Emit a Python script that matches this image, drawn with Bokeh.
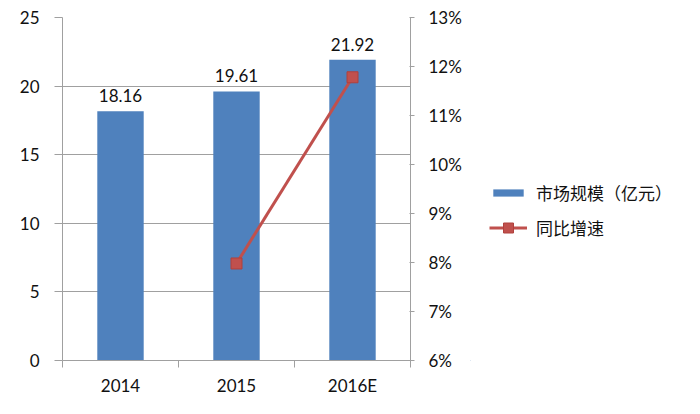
from bokeh.plotting import figure
from bokeh.layouts import row
from bokeh.models import (Range1d, LinearAxis, FixedTicker, NumeralTickFormatter,
                          ColumnDataSource, Legend, LegendItem)
from bokeh.core.properties import value
from bokeh.embed import file_html
from bokeh.resources import INLINE

categories = ["2014", "2015", "2016E"]
market = [18.16, 19.61, 21.92]          # 市场规模（亿元）
growth = [0.0798, 0.1178]               # 同比增速 for 2015, 2016E
growth_cats = ["2015", "2016E"]
left_ticks = [0, 5, 10, 15, 20, 25]
right_ticks = [0.06, 0.07, 0.08, 0.09, 0.10, 0.11, 0.12, 0.13]

BAR = "#4F81BD"
RED = "#C0504D"
GRID = "#A0A0A0"
TXT = "#111111"
FONT = "Lato"
CJK = "Noto Sans CJK SC"

pos = {c: i + 0.5 for i, c in enumerate(categories)}

p = figure(width=470, height=398, output_backend="svg", toolbar_location=None,
           x_range=Range1d(0, len(categories)), y_range=Range1d(0, 25),
           min_border_left=62, min_border_right=60, min_border_top=17,
           min_border_bottom=38)
p.outline_line_color = None
p.background_fill_color = "white"
p.border_fill_color = "white"
p.extra_y_ranges = {"pct": Range1d(0.06, 0.13)}

bar_src = ColumnDataSource(dict(x=[pos[c] for c in categories], top=market,
                                label=[f"{v:.2f}" for v in market]))
bars = p.vbar(x="x", top="top", width=0.4, source=bar_src, fill_color=BAR,
              line_color=None)
p.text(x="x", y="top", text="label", source=bar_src, y_offset=-9,
       text_align="center", text_baseline="bottom", text_font=value(FONT),
       text_font_size="17px", text_color=TXT)

line_src = ColumnDataSource(dict(x=[pos[c] for c in growth_cats], y=growth))
ln = p.line(x="x", y="y", source=line_src, line_color=RED, line_width=3,
            y_range_name="pct")
mk = p.scatter(x="x", y="y", source=line_src, marker="square", size=11,
               fill_color=RED, line_color="#B0403D", y_range_name="pct")

# x axis
xa = p.xaxis[0]
xa.ticker = FixedTicker(ticks=[pos[c] for c in categories],
                        minor_ticks=list(range(len(categories) + 1)))
xa.major_label_overrides = {pos[c]: c for c in categories}
xa.major_tick_line_color = None
xa.major_tick_out = 7
xa.minor_tick_out = 7
xa.minor_tick_in = 0
xa.minor_tick_line_color = GRID
xa.axis_line_color = GRID
xa.major_label_standoff = 7
xa.major_label_text_font = FONT
xa.major_label_text_font_size = "17px"
xa.major_label_text_color = TXT

# left axis
ya = p.yaxis[0]
ya.ticker = FixedTicker(ticks=left_ticks)
ya.axis_line_color = GRID
ya.major_tick_line_color = GRID
ya.major_tick_out = 8
ya.major_tick_in = 0
ya.minor_tick_line_color = None
ya.major_label_standoff = 15
ya.major_label_text_font = FONT
ya.major_label_text_font_size = "17px"
ya.major_label_text_color = TXT

# right axis
ra = LinearAxis(y_range_name="pct", ticker=FixedTicker(ticks=right_ticks),
                formatter=NumeralTickFormatter(format="0%"))
ra.axis_line_color = GRID
ra.major_tick_line_color = GRID
ra.major_tick_out = 4
ra.major_tick_in = 1
ra.minor_tick_line_color = None
ra.major_label_standoff = 14
ra.major_label_text_font = FONT
ra.major_label_text_font_size = "17px"
ra.major_label_text_color = TXT
p.add_layout(ra, "right")

p.xgrid.grid_line_color = None
p.ygrid.ticker = FixedTicker(ticks=left_ticks)
p.ygrid.grid_line_color = GRID
p.ygrid.grid_line_width = 1

# legend panel (same data, ranges set so marks are out of view; only legend shows)
lp = figure(width=214, height=398, output_backend="svg", toolbar_location=None,
            x_range=Range1d(100, 101), y_range=Range1d(100, 101),
            min_border=0, outline_line_color=None)
lp.axis.visible = False
lp.grid.visible = False
lp.border_fill_color = "white"
lb = lp.vbar(x="x", top="top", width=0.4, source=bar_src, fill_color=BAR,
             line_color=None)
ll = lp.line(x="x", y="y", source=line_src, line_color=RED, line_width=3)
lm = lp.scatter(x="x", y="y", source=line_src, marker="square", size=11,
                fill_color=RED, line_color="#B0403D")
leg_common = dict(glyph_width=38, label_text_font=CJK, label_text_font_size="17px",
                  label_text_color=TXT, padding=0, border_line_color=None,
                  background_fill_alpha=0, label_standoff=9)
legend1 = Legend(items=[LegendItem(label="市场规模（亿元）", renderers=[lb])],
                 location=(19, 155), glyph_height=9, **leg_common)
legend2 = Legend(items=[LegendItem(label="同比增速", renderers=[ll, lm])],
                 location=(19, 120), glyph_height=25, **leg_common)
lp.add_layout(legend1, "center")
lp.add_layout(legend2, "center")

layout = row(p, lp, spacing=0)
open("out.html", "w").write(file_html(layout, INLINE))
